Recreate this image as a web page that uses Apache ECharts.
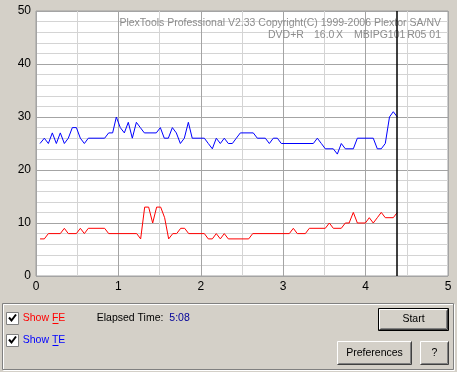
<!DOCTYPE html>
<html>
<head>
<meta charset="utf-8">
<script src="https://cdn.jsdelivr.net/npm/echarts@6/dist/echarts.min.js"></script>
<style>
html,body{margin:0;padding:0;background:#d4d0c8;}
#c{width:457px;height:372px;}
</style>
</head>
<body>
<div id="c"></div>
<script>
// TE (blue) readings: position (x) and value
var teX = [0.049,0.101,0.15,0.198,0.247,0.295,0.344,0.392,0.441,0.49,0.538,0.587,0.635,0.833,0.882,0.93,0.975,1.023,1.072,1.12,1.169,1.218,1.266,1.315,1.46,1.509,1.557,1.606,1.655,1.703,1.752,1.80,1.849,1.896,2.043,2.091,2.14,2.188,2.237,2.285,2.334,2.383,2.431,2.48,2.637,2.686,2.783,2.832,2.88,2.929,2.977,3.366,3.414,3.463,3.511,3.608,3.657,3.705,3.754,3.851,3.90,4.093,4.142,4.19,4.239,4.29,4.336,4.385];
var teY = [25,26,25,27,25,27,25,26,28,28,26,25,26,26,27,27,30,28,27,29,26,29,28,27,27,28,26,26,28,27,25,26,29,26,26,25,24,26,25,26,25,25,26,27,27,26,26,25,26,26,25,25,26,25,24,24,23,25,24,24,26,26,24,24,25,30,31,30];
// FE (red) readings
var feX = [0.049,0.101,0.15,0.295,0.344,0.392,0.49,0.538,0.587,0.635,0.833,0.882,1.222,1.27,1.319,1.367,1.416,1.464,1.513,1.561,1.61,1.66,1.707,1.756,1.804,1.853,2.043,2.091,2.14,2.188,2.237,2.285,2.334,2.581,2.63,3.074,3.123,3.171,3.269,3.317,3.511,3.56,3.608,3.705,3.754,3.80,3.851,3.90,3.997,4.045,4.093,4.142,4.19,4.239,4.336,4.385];
var feY = [7,7,8,8,9,8,8,9,8,9,9,8,8,7,13,13,10,13,13,11,7,8,8,9,9,8,8,7,7,8,7,8,7,7,8,8,9,8,8,9,9,10,9,9,10,10,12,10,10,11,10,11,12,11,11,12];
var cursorX = 4.38;
var xTicks = [0,1,2,3,4,5];
var yTicks = [0,10,20,30,40,50];

function pairs(xs, ys){ return xs.map(function(x,i){ return [x, ys[i]]; }); }

var chart = echarts.init(document.getElementById('c'), null, {renderer:'canvas'});
var F = 'Liberation Sans, Arial, sans-serif';
var option = {
  animation:false,
  backgroundColor:'#d4d0c8',
  grid:{left:36, top:11, width:412, height:265, show:true, backgroundColor:'#ffffff', borderColor:'#a0a0a0', borderWidth:1},
  xAxis:{type:'value', min:xTicks[0], max:xTicks[xTicks.length-1], interval:1,
    axisLine:{show:false}, axisTick:{show:false},
    axisLabel:{color:'#000', fontSize:12, fontFamily:F, margin:5},
    splitLine:{show:true, lineStyle:{color:'#a4a4a4', width:1}},
    minorTick:{show:false, splitNumber:2},
    minorSplitLine:{show:true, lineStyle:{color:'#d4d4d4', width:1}}},
  yAxis:{type:'value', min:yTicks[0], max:yTicks[yTicks.length-1], interval:10,
    axisLine:{show:false}, axisTick:{show:false},
    axisLabel:{color:'#000', fontSize:12, fontFamily:F, margin:5},
    splitLine:{show:true, lineStyle:{color:'#a4a4a4', width:1}},
    minorTick:{show:false, splitNumber:5},
    minorSplitLine:{show:true, lineStyle:{color:'#d4d4d4', width:1}}},
  series:[
    {type:'line', name:'TE', data:pairs(teX,teY), showSymbol:false, symbol:'none',
     lineStyle:{color:'#0000ff', width:1}, itemStyle:{color:'#0000ff'}, z:3},
    {type:'line', name:'FE', data:pairs(feX,feY), showSymbol:false, symbol:'none',
     lineStyle:{color:'#ff0000', width:1}, itemStyle:{color:'#ff0000'}, z:3,
     markLine:{silent:true, symbol:['none','none'], label:{show:false},
       lineStyle:{color:'#000000', width:1.5, type:'solid'}, data:[{xAxis:cursorX}]}}
  ],
  graphic:[
    // watermark texts
    {type:'text', left:null, x:441, y:23, z:1, style:{text:'PlexTools Professional V2.33 Copyright(C) 1999-2006 Plextor SA/NV', align:'right', verticalAlign:'middle', fill:'#8c8c8c', font:'10.5px '+F}},
    {type:'text', x:268, y:35, z:1, style:{text:'DVD+R', align:'left', verticalAlign:'middle', fill:'#8c8c8c', font:'10.5px '+F}},
    {type:'text', x:314, y:35, z:1, style:{text:'16.0', align:'left', verticalAlign:'middle', fill:'#8c8c8c', font:'10.5px '+F}},
    {type:'text', x:336, y:35, z:1, style:{text:'X', align:'left', verticalAlign:'middle', fill:'#8c8c8c', font:'10.5px '+F}},
    {type:'text', x:354, y:35, z:1, style:{text:'MBIPG101', align:'left', verticalAlign:'middle', fill:'#8c8c8c', font:'10.5px '+F}},
    {type:'text', x:441, y:35, z:1, style:{text:'R05 01', align:'right', verticalAlign:'middle', fill:'#8c8c8c', font:'10.5px '+F}},
    // group box
    {type:'rect', shape:{x:3.5, y:304.5, width:451, height:66}, style:{fill:'none', stroke:'#ffffff', lineWidth:1}},
    {type:'rect', shape:{x:2.5, y:303.5, width:451, height:66}, style:{fill:'none', stroke:'#808080', lineWidth:1}},
    // checkbox 1
    {type:'rect', shape:{x:6.5, y:312.5, width:12, height:12}, style:{fill:'#ffffff', stroke:'#808080', lineWidth:1}},
    {type:'polyline', shape:{points:[[9,317.5],[11.5,320.5],[16,314.5]]}, style:{stroke:'#000', lineWidth:2, fill:'none'}},
    {type:'text', x:22.7, y:318, style:{text:'Show FE', fill:'#ff0000', font:'10.5px '+F, verticalAlign:'middle'}},
    {type:'line', shape:{x1:52.5, y1:323.5, x2:58.5, y2:323.5}, style:{stroke:'#ff0000', lineWidth:1}},
    // checkbox 2
    {type:'rect', shape:{x:6.5, y:334.5, width:12, height:12}, style:{fill:'#ffffff', stroke:'#808080', lineWidth:1}},
    {type:'polyline', shape:{points:[[9,339.5],[11.5,342.5],[16,336.5]]}, style:{stroke:'#000', lineWidth:2, fill:'none'}},
    {type:'text', x:22.7, y:340, style:{text:'Show TE', fill:'#0000ff', font:'10.5px '+F, verticalAlign:'middle'}},
    {type:'line', shape:{x1:52.5, y1:345.5, x2:58.5, y2:345.5}, style:{stroke:'#0000ff', lineWidth:1}},
    // elapsed
    {type:'text', x:96.7, y:318, style:{text:'Elapsed Time:', fill:'#000000', font:'10.5px '+F, verticalAlign:'middle'}},
    {type:'text', x:169.3, y:318, style:{text:'5:08', fill:'#000099', font:'10.5px '+F, verticalAlign:'middle'}},
    // Start button
    {type:'rect', shape:{x:378.5, y:308.5, width:70, height:22}, style:{fill:'#d4d0c8', stroke:'#000000', lineWidth:1}},
    {type:'polyline', shape:{points:[[379.5,329],[379.5,309.5],[447,309.5]]}, style:{stroke:'#ffffff', lineWidth:1, fill:'none'}},
    {type:'polyline', shape:{points:[[379.5,329.5],[447.5,329.5],[447.5,309.5]]}, style:{stroke:'#404040', lineWidth:1, fill:'none'}},
    {type:'polyline', shape:{points:[[380.5,328.5],[446.5,328.5],[446.5,310.5]]}, style:{stroke:'#808080', lineWidth:1, fill:'none'}},
    {type:'text', x:413.5, y:319.5, style:{text:'Start', fill:'#000', font:'10.5px '+F, align:'center', verticalAlign:'middle'}},
    // Preferences button
    {type:'polyline', shape:{points:[[337.5,364],[337.5,341.5],[411,341.5]]}, style:{stroke:'#ffffff', lineWidth:1, fill:'none'}},
    {type:'polyline', shape:{points:[[337.5,364.5],[411.5,364.5],[411.5,341.5]]}, style:{stroke:'#404040', lineWidth:1, fill:'none'}},
    {type:'polyline', shape:{points:[[338.5,363.5],[410.5,363.5],[410.5,342.5]]}, style:{stroke:'#808080', lineWidth:1, fill:'none'}},
    {type:'text', x:374.5, y:353, style:{text:'Preferences', fill:'#000', font:'10.5px '+F, align:'center', verticalAlign:'middle'}},
    // ? button
    {type:'polyline', shape:{points:[[420.5,364],[420.5,341.5],[448,341.5]]}, style:{stroke:'#ffffff', lineWidth:1, fill:'none'}},
    {type:'polyline', shape:{points:[[420.5,364.5],[448.5,364.5],[448.5,341.5]]}, style:{stroke:'#404040', lineWidth:1, fill:'none'}},
    {type:'polyline', shape:{points:[[421.5,363.5],[447.5,363.5],[447.5,342.5]]}, style:{stroke:'#808080', lineWidth:1, fill:'none'}},
    {type:'text', x:434.5, y:353, style:{text:'?', fill:'#000', font:'10.5px '+F, align:'center', verticalAlign:'middle'}}
  ]
};
chart.setOption(option);
</script>
</body>
</html>
